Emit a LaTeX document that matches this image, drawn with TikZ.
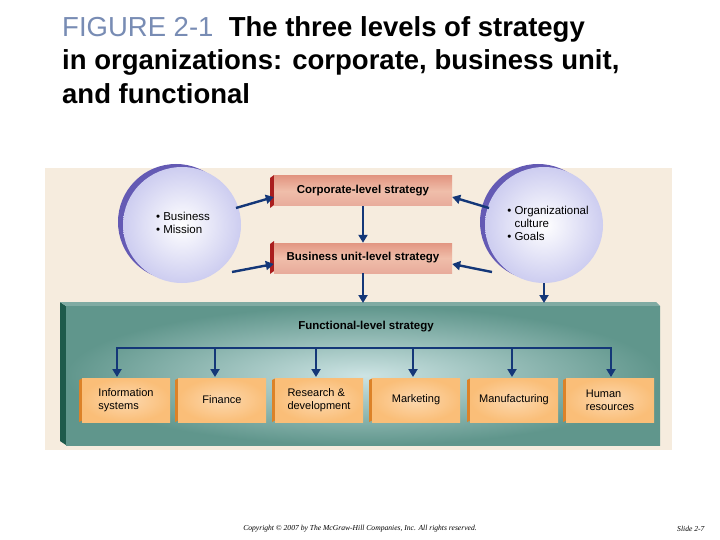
\documentclass[tikz,border=0pt]{standalone}
\usepackage{fontspec}
\setmainfont{Liberation Sans}
\newfontfamily\serifx{Liberation Serif}
\usetikzlibrary{arrows.meta,shapes.geometric}
\definecolor{beige}{RGB}{246,236,222}
\definecolor{teal1}{RGB}{96,150,140}
\definecolor{teal2}{RGB}{205,228,228}
\definecolor{tealdark}{RGB}{30,90,75}
\definecolor{boxred}{RGB}{226,150,130}
\definecolor{boxredlt}{RGB}{240,190,170}
\definecolor{darkred}{RGB}{170,30,30}
\definecolor{orng}{RGB}{250,190,120}
\definecolor{orngdk}{RGB}{220,130,40}
\definecolor{lav}{RGB}{205,205,240}
\definecolor{lavdk}{RGB}{100,90,180}
\definecolor{arr}{RGB}{20,55,120}
\definecolor{figblue}{RGB}{120,140,180}
\tikzset{
 x=1pt,y=-1pt,
 stratbox/.style={draw=none,minimum width=178pt,minimum height=30pt,font=\bfseries\fontsize{11.5}{13}\selectfont,
   top color=boxred,bottom color=boxred!80!white,middle color=boxredlt},
 funcbox/.style={minimum width=88pt,minimum height=44pt,font=\fontsize{11}{13}\selectfont,align=left,
   inner color=orng!60!white,outer color=orng},
 circ/.style={ellipse,minimum width=118pt,minimum height=116pt,inner color=white,outer color=lav},
 ar/.style={draw=arr,line width=2.4pt,-{Triangle[length=8pt,width=9pt]}},
 ctext/.style={align=left,font=\fontsize{11.5}{13}\selectfont},
 ttl/.style={anchor=base west,inner sep=0,font=\bfseries\fontsize{27.5}{30}\selectfont},
}
\begin{document}
\begin{tikzpicture}
\useasboundingbox (0,0) rectangle (720,540);
\fill[white] (0,0) rectangle (720,540);
% title
\node[ttl] (t1) at (62,37) {\textcolor{figblue}{\mdseries FIGURE 2-1}\ \ The three levels of strategy};
\node[ttl] (t2) at (62,70) {in organizations: corporate, business unit,};
\node[ttl] (t3) at (62,104) {and functional};
% background
\fill[beige] (45,168) rectangle (672,450);
% functional panel
\fill[tealdark] (60,302) -- (66,306) -- (66,445) -- (60,441) -- cycle;
\fill[teal1!80!white] (60,302) -- (656,302) -- (660,306) -- (66,306) -- cycle;
\path[inner color=teal2,outer color=teal1] (66,306) rectangle (660,445);
\node[font=\bfseries\fontsize{11.5}{13}\selectfont] (fl) at (366,327) {Functional-level strategy};
% circles
\fill[lavdk] (176,222) ellipse (58 and 58);
\node[circ] (lc) at (182,225) {};
\node[ctext] at (183,223) {• Business\\• Mission};
\fill[lavdk] (538,222) ellipse (58 and 58);
\node[circ] (rc) at (544,225) {};
\node[ctext] at (548,223) {• Organizational\\\phantom{• }culture\\• Goals};
% strategy boxes
\fill[darkred] (270,178) -- (274,175) -- (274,205) -- (270,208) -- cycle;
\node[stratbox] (cs) at (363,191) {Corporate-level strategy};
\fill[darkred] (270,244) -- (274,241) -- (274,271) -- (270,274) -- cycle;
\node[stratbox] (bs) at (363,258) {Business unit-level strategy};
% arrows
\draw[ar] (cs.south) -- (bs.north);
\draw[ar] (bs.south) -- (363,303);
\draw[ar] (rc.south) -- (544,303);
\draw[ar] (236,208) -- (cs.west |- 0,197);
\draw[ar] (232,272) -- (bs.west |- 0,264);
\draw[ar] (489,208) -- (cs.east |- 0,197);
\draw[ar] (492,272) -- (bs.east |- 0,264);
% function boxes
\foreach \n/\x/\t in {f1/126/{Information\\systems},f2/222/Finance,f3/319/{Research \&\\development},f4/416/Marketing,f5/514/Manufacturing,f6/610/{Human\\resources}}{
 \fill[orngdk] (\x-47,380) -- (\x-43,378) -- (\x-43,420) -- (\x-47,422) -- cycle;
 \node[funcbox] (\n) at (\x,400) {\t};
}
\draw[draw=arr,line width=2.4pt] (117,376) -- (117,348) -- (611,348) -- (611,376);
\foreach \n/\x in {f1/117,f2/215,f3/316,f4/413,f5/512,f6/611}{
 \draw[ar] (\x,348) -- (\x,377);
}
% footer
\node[font=\serifx\itshape\fontsize{7.6}{9}\selectfont] (cp) at (360,529) {Copyright © 2007 by The McGraw-Hill Companies, Inc. All rights reserved.};
\node[font=\serifx\itshape\fontsize{7.6}{9}\selectfont,anchor=east] (sl) at (708,529) {Slide 2-7};
\end{tikzpicture}
\end{document}
